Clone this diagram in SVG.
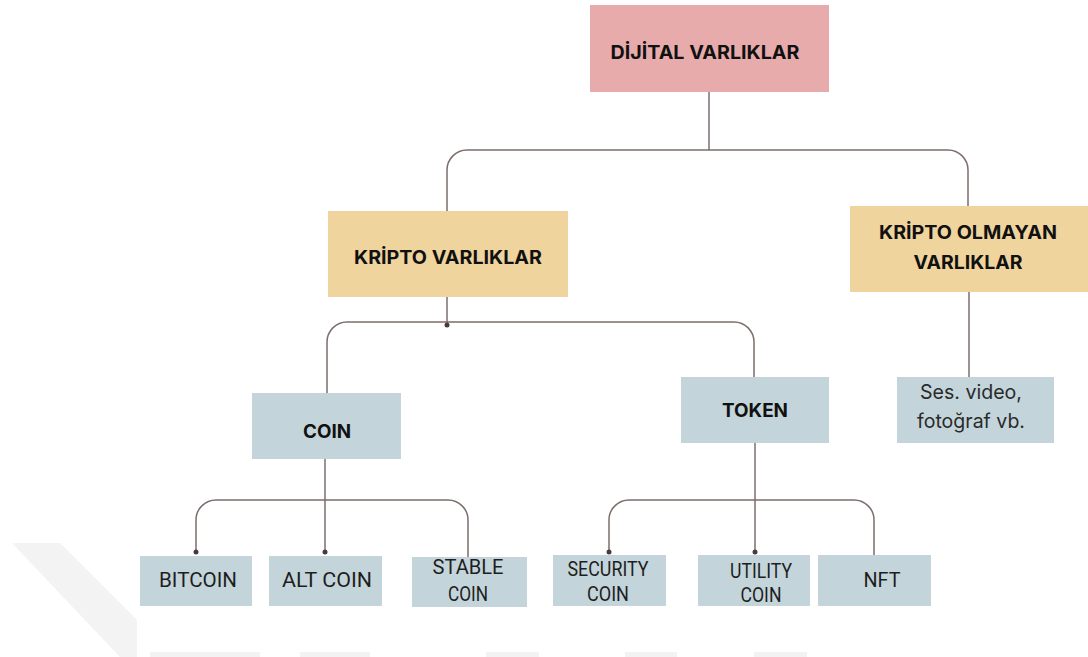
<svg xmlns="http://www.w3.org/2000/svg" width="1088" height="657" viewBox="0 0 1088 657">
  <style>
    .pink { fill: #e8abac; }
    .tan { fill: #f0d49e; }
    .blue { fill: #c3d5da; }
    .head { font-family: Inter, "Noto Sans", sans-serif; font-weight: 700; font-size: 19px; fill: #111; text-anchor: middle; dominant-baseline: central; }
    .body { font-family: Inter, "Noto Sans", sans-serif; font-size: 20px; fill: #2a2a2a; text-anchor: middle; dominant-baseline: central; }
    .leaf { font-family: Roboto, "Liberation Sans", sans-serif; font-size: 20px; fill: #1e1e1e; text-anchor: middle; dominant-baseline: central; }
    .wire { fill: none; stroke: #7d6e6c; stroke-width: 1.5; }
    .dot { fill: #4a3b3b; }
    .mark { fill: #f3f3f3; }
  </style>

  <rect width="1088" height="657" fill="#ffffff"/>

  <!-- faint background stripes -->
  <g id="backdrop">
    <polygon class="mark" points="12,543 60,543 137,620 137,657 120,657"/>
    <rect class="mark" x="150" y="652" width="110" height="5"/>
    <rect class="mark" x="300" y="652" width="70" height="5"/>
    <rect class="mark" x="486" y="652" width="53" height="5"/>
    <rect class="mark" x="625" y="652" width="52" height="5"/>
    <rect class="mark" x="754" y="652" width="53" height="5"/>
  </g>

  <!-- connectors -->
  <g id="connectors">
    <path class="wire" d="M709,92 V150"/>
    <path class="wire" d="M447,211 V170 A20,20 0 0 1 467,150 H948 A20,20 0 0 1 968,170 V206"/>
    <path class="wire" d="M447,297 V325"/>
    <path class="wire" d="M327,393 V342 A20,20 0 0 1 347,322 H734 A20,20 0 0 1 754,342 V377"/>
    <path class="wire" d="M969,292 V377"/>
    <path class="wire" d="M325,459 V552"/>
    <path class="wire" d="M196,552 V520 A20,20 0 0 1 216,500 H448 A20,20 0 0 1 468,520 V557"/>
    <path class="wire" d="M755,443 V552"/>
    <path class="wire" d="M609,552 V520 A20,20 0 0 1 629,500 H854 A20,20 0 0 1 874,520 V555"/>
    <circle class="dot" cx="447" cy="325" r="2.5"/>
    <circle class="dot" cx="196" cy="552" r="2.5"/>
    <circle class="dot" cx="325" cy="552" r="2.5"/>
    <circle class="dot" cx="609" cy="552" r="2.5"/>
    <circle class="dot" cx="755" cy="552" r="2.5"/>
  </g>

  <g id="dijital-varliklar">
    <rect class="pink" x="590" y="5" width="239" height="87"/>
    <text class="head" x="705" y="52" textLength="189" lengthAdjust="spacingAndGlyphs">DİJİTAL VARLIKLAR</text>
  </g>

  <g id="kripto-varliklar">
    <rect class="tan" x="328" y="211" width="240" height="86"/>
    <text class="head" x="448" y="257" textLength="188" lengthAdjust="spacingAndGlyphs">KRİPTO VARLIKLAR</text>
  </g>

  <g id="kripto-olmayan">
    <rect class="tan" x="850" y="206" width="238" height="86"/>
    <text class="head" x="968" y="232" textLength="178" lengthAdjust="spacingAndGlyphs">KRİPTO OLMAYAN</text>
    <text class="head" x="968" y="262" textLength="109" lengthAdjust="spacingAndGlyphs">VARLIKLAR</text>
  </g>

  <g id="coin">
    <rect class="blue" x="252" y="393" width="149" height="66"/>
    <text class="head" x="327" y="431" textLength="48" lengthAdjust="spacingAndGlyphs">COIN</text>
  </g>

  <g id="token">
    <rect class="blue" x="681" y="377" width="148" height="66"/>
    <text class="head" x="755" y="410" textLength="66" lengthAdjust="spacingAndGlyphs">TOKEN</text>
  </g>

  <g id="ses-video">
    <rect class="blue" x="897" y="377" width="157" height="66"/>
    <text class="body" x="971" y="392" textLength="102" lengthAdjust="spacingAndGlyphs">Ses. video,</text>
    <text class="body" x="971" y="421" textLength="108" lengthAdjust="spacingAndGlyphs">fotoğraf vb.</text>
  </g>

  <g id="bitcoin">
    <rect class="blue" x="140" y="556" width="112" height="50"/>
    <text class="leaf" x="198" y="580" textLength="78" lengthAdjust="spacingAndGlyphs">BITCOIN</text>
  </g>

  <g id="alt-coin">
    <rect class="blue" x="269" y="556" width="113" height="50"/>
    <text class="leaf" x="327" y="580" textLength="90" lengthAdjust="spacingAndGlyphs">ALT COIN</text>
  </g>

  <g id="stable-coin">
    <rect class="blue" x="412" y="557" width="115" height="50"/>
    <text class="leaf" x="468" y="567" textLength="71" lengthAdjust="spacingAndGlyphs">STABLE</text>
    <text class="leaf" x="468" y="594" textLength="40" lengthAdjust="spacingAndGlyphs">COIN</text>
  </g>

  <g id="security-coin">
    <rect class="blue" x="553" y="555" width="113" height="51"/>
    <text class="leaf" x="608" y="569" textLength="81" lengthAdjust="spacingAndGlyphs">SECURITY</text>
    <text class="leaf" x="608" y="594" textLength="42" lengthAdjust="spacingAndGlyphs">COIN</text>
  </g>

  <g id="utility-coin">
    <rect class="blue" x="698" y="555" width="112" height="51"/>
    <text class="leaf" x="761" y="571" textLength="62" lengthAdjust="spacingAndGlyphs">UTILITY</text>
    <text class="leaf" x="761" y="595" textLength="41" lengthAdjust="spacingAndGlyphs">COIN</text>
  </g>

  <g id="nft">
    <rect class="blue" x="818" y="555" width="113" height="51"/>
    <text class="leaf" x="882" y="580" textLength="37" lengthAdjust="spacingAndGlyphs">NFT</text>
  </g>
</svg>
